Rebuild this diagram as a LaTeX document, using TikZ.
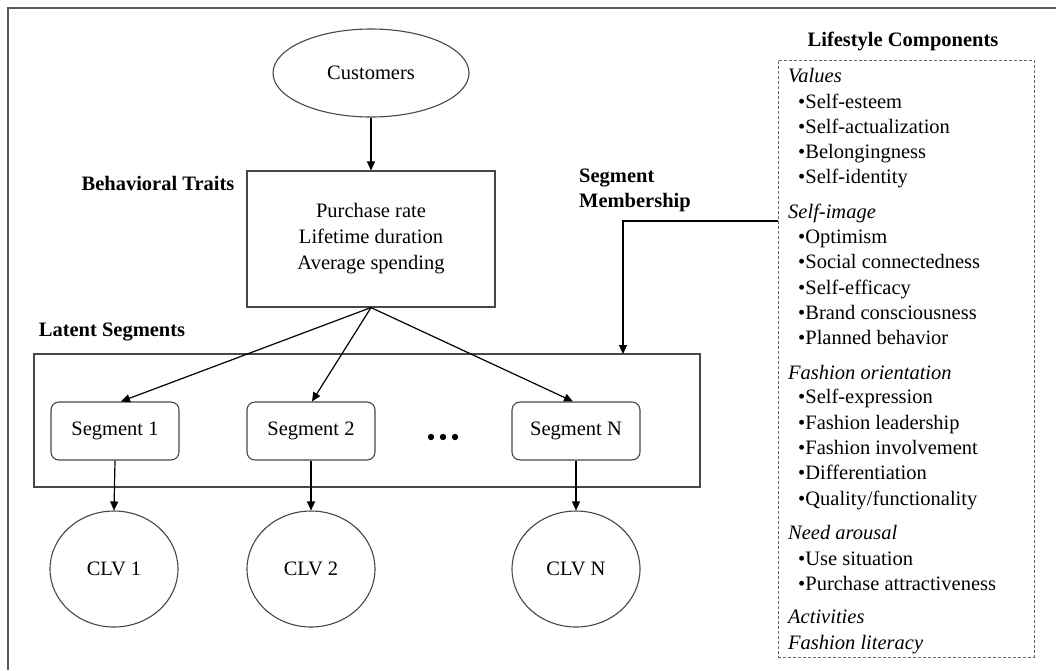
\documentclass[tikz,border=0pt]{standalone}
\usepackage{fontspec}
\setmainfont{Liberation Serif}
\usetikzlibrary{shapes.geometric,arrows.meta,calc}
\newcommand{\bul}{•}
\tikzset{
  shapeline/.style={draw=black!72,line width=1.1pt},
  txt/.style={font=\fontsize{20.5}{26}\selectfont},
  boldlbl/.style={font=\fontsize{20.5}{25}\selectfont\bfseries},
  oval/.style={ellipse,shapeline,txt,inner sep=0pt},
  plainbox/.style={rectangle,shapeline,txt,align=center,inner sep=0pt},
  segbox/.style={rectangle,rounded corners=8pt,shapeline,txt,minimum width=128pt,minimum height=58pt,inner sep=0pt},
  arr/.style={draw=black,line width=1.2pt,-{Triangle[length=9pt,width=8pt]}},
  itemtxt/.style={anchor=base west,inner sep=0pt,font=\fontsize{20.5}{24}\selectfont},
  headtxt/.style={anchor=base west,inner sep=0pt,font=\fontsize{20.5}{24}\selectfont\itshape},
}
\begin{document}
\begin{tikzpicture}[x=1pt,y=-1pt]
\useasboundingbox (0,0) rectangle (1056,670);
% outer frame (top and left visible)
\draw[draw=black!65,line width=1.5pt] (1056,8) -- (8,8) -- (8,670);

% main flow
\node[oval,minimum width=196pt,minimum height=88pt] (cust) at (371,73) {Customers};
\node[plainbox,minimum width=248pt,minimum height=136pt] (traits) at (371,239)
  {Purchase rate\\Lifetime duration\\Average spending};
\node[boldlbl,anchor=center] (traitslbl) at (158,183) {Behavioral Traits};
\node[boldlbl,anchor=center] (latentlbl) at (112,332) {Latent Segments};
\node[plainbox,minimum width=666pt,minimum height=133pt] (latent) at (367,420.5) {};
\node[segbox] (seg1) at (115,431) {Segment 1};
\node[segbox] (seg2) at (311,431) {Segment 2};
\node[segbox] (segN) at (576,431) {Segment N};
\node[inner sep=0pt] (dots) at (443,437) {};
\fill[black] (431,437) circle (3.2pt) (443,437) circle (3.2pt) (455,437) circle (3.2pt);
\node[oval,minimum width=128pt,minimum height=116pt] (clv1) at (114,569) {CLV 1};
\node[oval,minimum width=128pt,minimum height=116pt] (clv2) at (311,569) {CLV 2};
\node[oval,minimum width=128pt,minimum height=116pt] (clvN) at (576,569) {CLV N};
\node[boldlbl,anchor=west,align=left,inner sep=0pt] (memb) at (579,190) {Segment\\Membership};

\draw[arr] (cust.south) -- (traits.north);
\draw[arr] (traits.south) -- ([xshift=6pt]seg1.north);
\draw[arr] (traits.south) -- ([xshift=1pt]seg2.north);
\draw[arr] (traits.south) -- ([xshift=-3pt]segN.north);
\draw[arr] (seg1.south) -- (clv1.north);
\draw[arr] (seg2.south) -- (clv2.north);
\draw[arr] (segN.south) -- (clvN.north);

% lifestyle components
\node[boldlbl,anchor=center] (lstitle) at (903,41) {Lifestyle Components};
\node[draw=black!60,dashed,dash pattern=on 3pt off 2pt,line width=0.8pt,minimum width=256pt,minimum height=597pt,inner sep=0pt] (lsbox) at (906,358.5) {};
\coordinate (membin) at (lsbox.west |- 0,221);
\draw[arr] (membin) -- (623,221) -- (623,354);

\foreach \t/\y [count=\i] in {Values/82, Self-image/218, Fashion orientation/379, Need arousal/539, Activities/623, Fashion literacy/649}
  \node[headtxt] (h\i) at (788,\y) {\t};
\foreach \t/\y [count=\i] in {Self-esteem/108, Self-actualization/133, Belongingness/158, Self-identity/183,
  Optimism/243, Social connectedness/268, Self-efficacy/294, Brand consciousness/319, Planned behavior/344,
  Self-expression/403, Fashion leadership/429, Fashion involvement/454, Differentiation/479, {Quality/functionality}/505,
  Use situation/565, Purchase attractiveness/590}
  \node[itemtxt] (it\i) at (798,\y) {\bul\t};
\end{tikzpicture}
\end{document}
